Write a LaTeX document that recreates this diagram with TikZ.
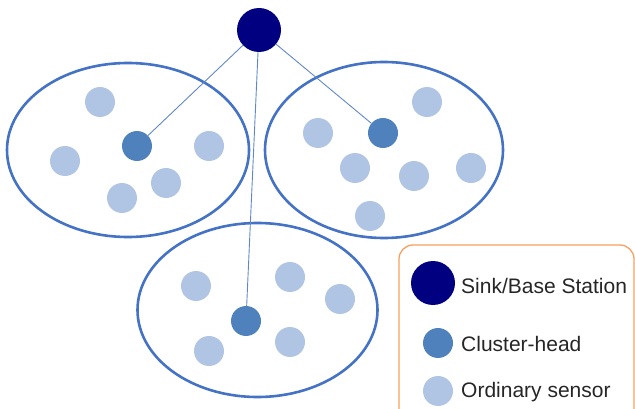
\documentclass[tikz,border=0pt]{standalone}
\usepackage{fontspec}
\setmainfont{Liberation Sans}
\definecolor{sinkc}{RGB}{0,0,128}
\definecolor{headc}{RGB}{79,129,189}
\definecolor{sensc}{RGB}{176,196,228}
\definecolor{ringc}{RGB}{68,114,196}
\definecolor{legc}{RGB}{247,160,95}
\begin{document}
\begin{tikzpicture}[x=1pt,y=-1pt,
 sinknode/.style={circle,fill=sinkc,minimum size=44pt,inner sep=0pt},
 headnode/.style={circle,fill=headc,minimum size=30pt,inner sep=0pt},
 sensnode/.style={circle,fill=sensc,minimum size=30pt,inner sep=0pt},
 ring/.style={draw=ringc,line width=2.6pt},
 link/.style={draw=ringc!85,line width=0.9pt},
 legtext/.style={anchor=base west,font=\fontsize{21}{25}\selectfont,inner sep=0pt,text=black!85}]
\useasboundingbox (0,0) rectangle (635,409);
\clip (0,0) rectangle (635,409);
% clusters
\draw[ring] (128,150) ellipse [x radius=121pt, y radius=87pt];
\draw[ring] (384,150) ellipse [x radius=119pt, y radius=88pt];
\draw[ring] (257.5,310) ellipse [x radius=120pt, y radius=87pt];
% sink and heads
\node[sinknode] (sink) at (259,30) {};
\node[headnode] (chL) at (137,146) {};
\node[headnode] (chR) at (383,133) {};
\node[headnode] (chB) at (246,321) {};
\draw[link] (sink) -- (chL);
\draw[link] (sink) -- (chR);
\draw[link] (sink) -- (chB);
% left sensors
\node[sensnode] (l1) at (100,102) {};
\node[sensnode] (l2) at (65,161) {};
\node[sensnode] (l3) at (209,146) {};
\node[sensnode] (l4) at (166,183) {};
\node[sensnode] (l5) at (122,198) {};
% right sensors
\node[sensnode] (r1) at (427,102) {};
\node[sensnode] (r2) at (318,133) {};
\node[sensnode] (r3) at (355,168) {};
\node[sensnode] (r4) at (414,176) {};
\node[sensnode] (r5) at (471,168) {};
\node[sensnode] (r6) at (370,216) {};
% bottom sensors
\node[sensnode] (b1) at (196,286) {};
\node[sensnode] (b2) at (290,277) {};
\node[sensnode] (b3) at (340,299) {};
\node[sensnode] (b4) at (209,351) {};
\node[sensnode] (b5) at (290,342) {};
% legend
\draw[legc,line width=1.3pt,rounded corners=14pt] (399,245) rectangle (634,440);
\node[sinknode] (lsink) at (433,283) {};
\node[headnode] (lhead) at (438,343) {};
\node[sensnode] (lsens) at (438,391) {};
\node[legtext] (t1) at (461,293) {Sink/Base Station};
\node[legtext] (t2) at (461,351) {Cluster-head};
\node[legtext] (t3) at (461,397) {Ordinary sensor};
\end{tikzpicture}
\end{document}
